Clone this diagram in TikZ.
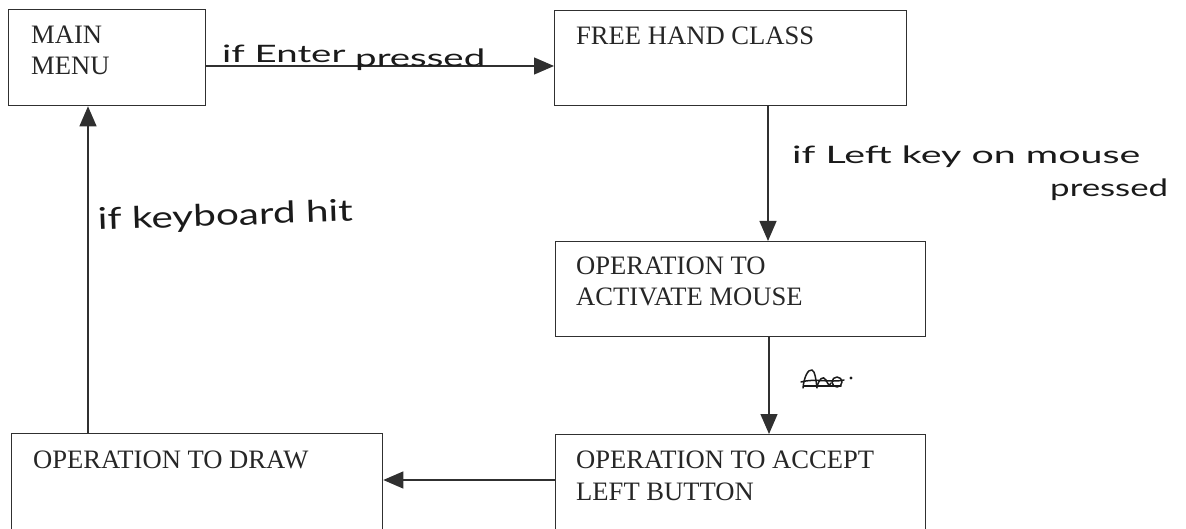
\documentclass[tikz,border=0pt]{standalone}
\usepackage{fontspec}
\setmainfont{Liberation Serif}
\newfontfamily\handfont{Lato}
\usetikzlibrary{arrows.meta,calc}

\definecolor{linegray}{HTML}{303030}
\definecolor{textgray}{HTML}{262626}
\definecolor{inkgray}{HTML}{1A1A1A}

\tikzset{
  box/.style={draw=linegray, line width=1.3pt, anchor=north west, inner sep=0pt},
  boxtext/.style={anchor=base west, inner sep=0pt, text=textgray,
    font=\fontsize{26.6}{31}\selectfont},
  flow/.style={draw=linegray, line width=1.3pt,
    -{Triangle[length=20pt,width=17pt]}},
  hand/.style={anchor=base west, inner sep=0pt, text=inkgray},
  handsize/.style={font=\handfont\fontsize{#1}{#1}\selectfont},
  ink/.style={draw=inkgray, line width=1.5pt, line cap=round, line join=round},
}

\begin{document}
\begin{tikzpicture}[x=1pt, y=-1pt]
  \useasboundingbox (0,0) rectangle (1186,529);

  % boxes
  \node[box, minimum width=197pt, minimum height=96pt]  (menu) at (8,9)    {};
  \node[box, minimum width=352pt, minimum height=95pt]  (free) at (554,10) {};
  \node[box, minimum width=370pt, minimum height=95pt]  (act)  at (555,241) {};
  \node[box, minimum width=370pt, minimum height=110pt] (acc)  at (555,434) {};
  \node[box, minimum width=371pt, minimum height=110pt] (drw)  at (11,433) {};

  % box captions
  \node[boxtext] (menuA) at ($(menu.north west)+(23,35)$) {MAIN};
  \node[boxtext] (menuB) at ($(menu.north west)+(23,66)$) {MENU};
  \node[boxtext] (freeA) at ($(free.north west)+(22,35)$) {FREE HAND CLASS};
  \node[boxtext] (actA)  at ($(act.north west)+(21,34)$)  {OPERATION TO};
  \node[boxtext] (actB)  at ($(act.north west)+(21,65)$)  {ACTIVATE MOUSE};
  \node[boxtext] (accA)  at ($(acc.north west)+(21,34)$)  {OPERATION TO ACCEPT};
  \node[boxtext] (accB)  at ($(acc.north west)+(21,66)$)  {LEFT BUTTON};
  \node[boxtext] (drwA)  at ($(drw.north west)+(22,35)$)  {OPERATION TO DRAW};

  % guide coordinates for the connectors
  \coordinate (yEnter) at (0,66);
  \coordinate (xDownA) at (768,0);
  \coordinate (xDownB) at (769,0);
  \coordinate (yBack)  at (0,480);
  \coordinate (xUp)    at (88,0);

  % connectors
  \draw[flow] (menu.east |- yEnter) -- (free.west |- yEnter);
  \draw[flow] (free.south -| xDownA) -- (act.north -| xDownA);
  \draw[flow] (act.south -| xDownB) -- (acc.north -| xDownB);
  \draw[flow] (acc.west |- yBack) -- (drw.east |- yBack);
  \draw[flow] (drw.north -| xUp) -- (menu.south -| xUp);

  % handwritten conditions
  \node[hand, handsize=24] (lblEnter) at (222,63)
    {\resizebox{263pt}{\height}{if Enter \raisebox{-4pt}{pressed}}};
  \node[hand, handsize=24] (lblLeft) at (792,164)
    {\resizebox{348pt}{\height}{if Left key on mouse}};
  \node[hand, handsize=24] (lblPressed) at (1050,197)
    {\resizebox{118pt}{\height}{pressed}};
  \node[hand, handsize=30, rotate=2] (lblKey) at (98,230)
    {\resizebox{255pt}{\height}{if keyboard hit}};

  % crossed-out scribble beside the lower arrow
  \draw[ink] (803,388) .. controls (804,377) and (808,369) .. (812,370)
             .. controls (815,371) and (816,380) .. (817,388);
  \draw[ink] (817,387) .. controls (819,379) and (823,375) .. (826,380)
             .. controls (828,384) and (829,387) .. (831,383);
  \draw[ink] (837,382) circle (5pt);
  \draw[ink] (801,382) .. controls (815,378) and (830,383) .. (844,380);
  \draw[ink] (804,386) -- (841,386);
  \fill[inkgray] (851,378) circle (1.6pt);
\end{tikzpicture}
\end{document}
